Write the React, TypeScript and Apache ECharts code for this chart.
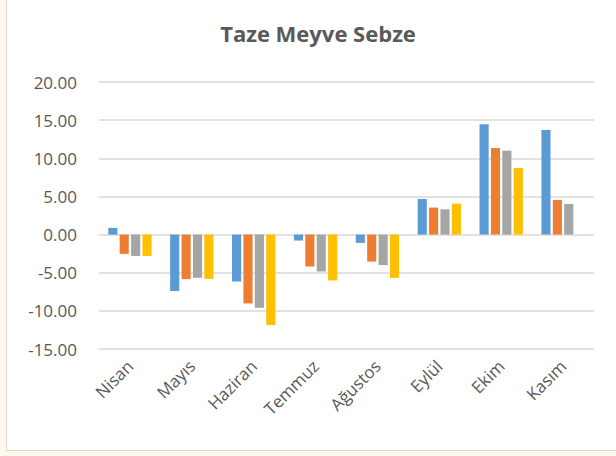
import React, { useEffect, useRef } from "react";
import * as echarts from "echarts";

const categories = ["Nisan", "Mayıs", "Haziran", "Temmuz", "Ağustos", "Eylül", "Ekim", "Kasım"];
const series1 = [0.88, -7.4, -6.15, -0.78, -1.09, 4.67, 14.46, 13.71];
const series2 = [-2.53, -5.84, -9.03, -4.19, -3.54, 3.54, 11.35, 4.54];
const series3 = [-2.8, -5.67, -9.6, -4.84, -4.0, 3.32, 11.0, 4.02];
const series4 = [-2.8, -5.8, -11.87, -6.02, -5.67, 4.06, 8.73, null];
const colors = ["#5B9BD5", "#ED7D31", "#A5A5A5", "#FFC000"];
const titleText = "Taze Meyve Sebze";

export default function App() {
  const ref = useRef<HTMLDivElement>(null);
  useEffect(() => {
    document.body.style.margin = "0";
    if (!ref.current) return;
    const chart = echarts.init(ref.current, null, { renderer: "svg" });
    const font = "'Open Sans', sans-serif";
    const allSeries = [series1, series2, series3, series4];
    chart.setOption({
      animation: false,
      textStyle: { fontFamily: font },
      graphic: [
        {
          type: "text",
          x: 318,
          y: 33,
          style: {
            text: titleText,
            fontFamily: font,
            fontSize: 22,
            fontWeight: "bold",
            fill: "#595959",
            textAlign: "center",
            textVerticalAlign: "middle",
          },
        },
      ],
      grid: { left: 99, right: 22, top: 82, bottom: 107 },
      xAxis: {
        type: "category",
        data: categories,
        axisLine: { show: false },
        axisTick: { show: false },
        axisLabel: {
          rotate: 45,
          fontSize: 17,
          color: "#595959",
          fontFamily: font,
          margin: 14,
          interval: 0,
        },
      },
      yAxis: {
        type: "value",
        min: -15,
        max: 20,
        interval: 5,
        axisLine: { show: false },
        axisTick: { show: false },
        axisLabel: {
          fontSize: 17,
          color: "#595959",
          fontFamily: font,
          margin: 22,
          formatter: (v: number) => v.toFixed(2),
        },
        splitLine: { lineStyle: { color: "#D9D9D9", width: 1.5 } },
      },
      series: allSeries.map((d, i) => ({
        type: "bar",
        data: d,
        itemStyle: { color: colors[i] },
        barGap: "25%",
        barCategoryGap: "30%",
      })),
    });
    return () => chart.dispose();
  }, []);
  return (
    <div style={{ position: "fixed", left: 0, top: 0, width: 616, height: 456, background: "#FEF8EC", overflow: "hidden" }}>
      <div
        style={{
          position: "absolute",
          left: 6,
          top: -4,
          width: 640,
          height: 455,
          boxSizing: "border-box",
          border: "1.5px solid #D9D9D9",
          background: "#FFFFFF",
        }}
      />
      <div ref={ref} style={{ position: "absolute", left: 0, top: 0, width: 616, height: 456 }} />
    </div>
  );
}
